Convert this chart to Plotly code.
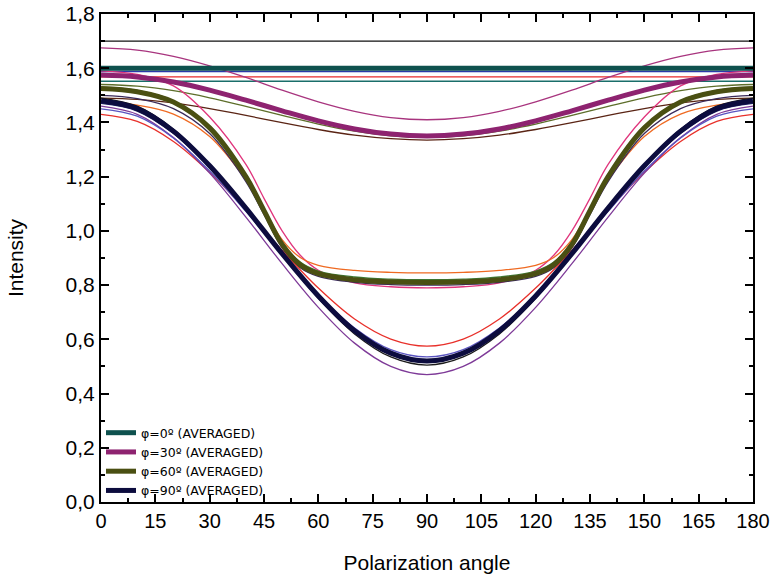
import plotly.graph_objects as go

# Polarization angles (degrees)
angles = [0, 10, 20, 30, 40, 50, 60, 70, 80, 90, 100, 110, 120, 130, 140, 150, 160, 170, 180]
# finer sampling where the phi = 60 curves bend sharply
angles60 = [0, 10, 20, 30, 40, 45, 50, 55, 60, 70, 80, 90, 100, 110, 120, 125, 130, 135, 140, 150, 160, 170, 180]

# ---- phi = 0 group (flat) ----
phi0_avg = [1.60] * 19
phi0_black = [1.70] * 19
phi0_blue = [1.588] * 19
phi0_red = [1.568] * 19
phi0_teal = [1.552] * 19

# ---- phi = 30 group ----
phi30_avg = [1.575, 1.568, 1.549, 1.519, 1.482, 1.443, 1.406, 1.376, 1.357, 1.35, 1.357, 1.376, 1.406, 1.443, 1.482, 1.519, 1.549, 1.568, 1.575]
phi30_magenta = [1.675, 1.667, 1.644, 1.609, 1.566, 1.519, 1.476, 1.441, 1.418, 1.41, 1.418, 1.441, 1.476, 1.519, 1.566, 1.609, 1.644, 1.667, 1.675]
phi30_olive = [1.54, 1.534, 1.517, 1.491, 1.459, 1.426, 1.394, 1.368, 1.351, 1.345, 1.351, 1.368, 1.394, 1.426, 1.459, 1.491, 1.517, 1.534, 1.54]
phi30_brown = [1.49, 1.485, 1.472, 1.451, 1.426, 1.399, 1.374, 1.353, 1.34, 1.335, 1.34, 1.353, 1.374, 1.399, 1.426, 1.451, 1.472, 1.485, 1.49]

# ---- phi = 60 group (sampled at angles60) ----
phi60_avg = [1.525, 1.513, 1.475, 1.38, 1.20, 1.075, 0.95, 0.875, 0.842, 0.82, 0.812, 0.81,
             0.812, 0.82, 0.842, 0.875, 0.95, 1.075, 1.20, 1.38, 1.475, 1.513, 1.525]
phi60_pink = [1.59, 1.577, 1.535, 1.42, 1.245, 1.12, 1.0, 0.91, 0.855, 0.808, 0.794, 0.79,
              0.794, 0.808, 0.855, 0.91, 1.0, 1.12, 1.245, 1.42, 1.535, 1.577, 1.59]
phi60_orange = [1.475, 1.464, 1.431, 1.348, 1.188, 1.079, 0.968, 0.902, 0.873, 0.854, 0.847, 0.845,
                0.847, 0.854, 0.873, 0.902, 0.968, 1.079, 1.188, 1.348, 1.431, 1.464, 1.475]
phi60_green = [1.53, 1.518, 1.48, 1.387, 1.207, 1.083, 0.959, 0.885, 0.852, 0.83, 0.822, 0.82,
               0.822, 0.83, 0.852, 0.885, 0.959, 1.083, 1.207, 1.387, 1.48, 1.518, 1.53]
phi60_dark = [1.50, 1.488, 1.451, 1.359, 1.182, 1.06, 0.937, 0.864, 0.832, 0.81, 0.802, 0.80,
              0.802, 0.81, 0.832, 0.864, 0.937, 1.06, 1.182, 1.359, 1.451, 1.488, 1.50]

# ---- phi = 90 group ----
phi90_avg = [1.48, 1.451, 1.368, 1.24, 1.084, 0.916, 0.76, 0.632, 0.549, 0.52, 0.549, 0.632, 0.76, 0.916, 1.084, 1.24, 1.368, 1.451, 1.48]
phi90_red = [1.43, 1.404, 1.33, 1.216, 1.077, 0.928, 0.789, 0.675, 0.601, 0.575, 0.601, 0.675, 0.789, 0.928, 1.077, 1.216, 1.33, 1.404, 1.43]
phi90_purple = [1.46, 1.43, 1.344, 1.213, 1.051, 0.879, 0.718, 0.586, 0.50, 0.47, 0.50, 0.586, 0.718, 0.879, 1.051, 1.213, 1.344, 1.43, 1.46]
phi90_violet = [1.45, 1.423, 1.343, 1.221, 1.072, 0.913, 0.764, 0.642, 0.562, 0.535, 0.562, 0.642, 0.764, 0.913, 1.072, 1.221, 1.343, 1.423, 1.45]
phi90_black = [1.49, 1.46, 1.375, 1.244, 1.083, 0.912, 0.751, 0.62, 0.535, 0.505, 0.535, 0.62, 0.751, 0.912, 1.083, 1.244, 1.375, 1.46, 1.49]
phi90_navy = [1.47, 1.442, 1.359, 1.233, 1.078, 0.912, 0.758, 0.631, 0.549, 0.52, 0.549, 0.631, 0.758, 0.912, 1.078, 1.233, 1.359, 1.442, 1.47]

y_tickvals = [0.0, 0.2, 0.4, 0.6, 0.8, 1.0, 1.2, 1.4, 1.6, 1.8]
y_ticktext = ["0,0", "0,2", "0,4", "0,6", "0,8", "1,0", "1,2", "1,4", "1,6", "1,8"]
x_tickvals = [0, 15, 30, 45, 60, 75, 90, 105, 120, 135, 150, 165, 180]

legend_names = ["φ=0º (AVERAGED)", "φ=30º (AVERAGED)", "φ=60º (AVERAGED)", "φ=90º (AVERAGED)"]

fig = go.Figure()

thin = [
    (angles, phi0_black, "#111111"), (angles, phi0_blue, "#2a3aa8"),
    (angles, phi0_red, "#e8282a"), (angles, phi0_teal, "#1a6e6a"),
    (angles, phi30_magenta, "#a8347e"), (angles, phi30_olive, "#5d6e2a"), (angles, phi30_brown, "#5a2414"),
    (angles60, phi60_pink, "#e0357c"), (angles60, phi60_orange, "#ef6a22"),
    (angles60, phi60_green, "#3e7a34"), (angles60, phi60_dark, "#3a2a5a"),
    (angles, phi90_red, "#e8302a"), (angles, phi90_purple, "#7e3a98"), (angles, phi90_violet, "#5a54c0"),
    (angles, phi90_black, "#1a1a1a"), (angles, phi90_navy, "#22226a"),
]
for xs, vals, col in thin:
    fig.add_trace(go.Scatter(x=xs, y=vals, mode="lines", showlegend=False,
                             line=dict(color=col, width=1.3, shape="spline", smoothing=1.0),
                             hoverinfo="skip"))

thick = [
    (angles, phi0_avg, "#0e514e", legend_names[0]),
    (angles, phi30_avg, "#8e2370", legend_names[1]),
    (angles60, phi60_avg, "#4a4f12", legend_names[2]),
    (angles, phi90_avg, "#0c0c3e", legend_names[3]),
]
for xs, vals, col, name in thick:
    fig.add_trace(go.Scatter(x=xs, y=vals, mode="lines", name=name,
                             line=dict(color=col, width=5, shape="spline", smoothing=1.0)))

axis_common = dict(showline=True, linecolor="black", linewidth=2, mirror="ticks",
                   ticks="inside", ticklen=8, tickwidth=2, tickcolor="black",
                   showgrid=False, zeroline=False, automargin=False)

fig.update_xaxes(range=[0, 180], tickvals=x_tickvals,
                 minor=dict(ticks="inside", ticklen=4, tickwidth=2, tickcolor="black", dtick=7.5, tick0=0),
                 tickfont=dict(family="Liberation Sans, Arial, sans-serif", size=20, color="black"),
                 title=dict(text="Polarization angle", standoff=24,
                            font=dict(family="Liberation Sans, Arial, sans-serif", size=21, color="black")),
                 **axis_common)
fig.update_yaxes(range=[0, 1.8], tickvals=y_tickvals, ticktext=y_ticktext,
                 minor=dict(ticks="inside", ticklen=4, tickwidth=2, tickcolor="black", dtick=0.1, tick0=0),
                 tickfont=dict(family="Liberation Sans, Arial, sans-serif", size=21, color="black"),
                 title=dict(text="Intensity", standoff=36,
                            font=dict(family="Liberation Sans, Arial, sans-serif", size=21, color="black")),
                 **axis_common)

fig.update_layout(
    width=777, height=583,
    margin=dict(l=101, r=24, t=14, b=81),
    plot_bgcolor="white", paper_bgcolor="white",
    legend=dict(x=0.0, y=0.172, xanchor="left", yanchor="top", bgcolor="rgba(0,0,0,0)",
                font=dict(family="DejaVu Sans, sans-serif", size=12.5, color="black"),
                tracegroupgap=0, itemwidth=30),
)

fig.write_html("out.html", config={"displayModeBar": False},
               post_script="document.body.style.margin='0';")
